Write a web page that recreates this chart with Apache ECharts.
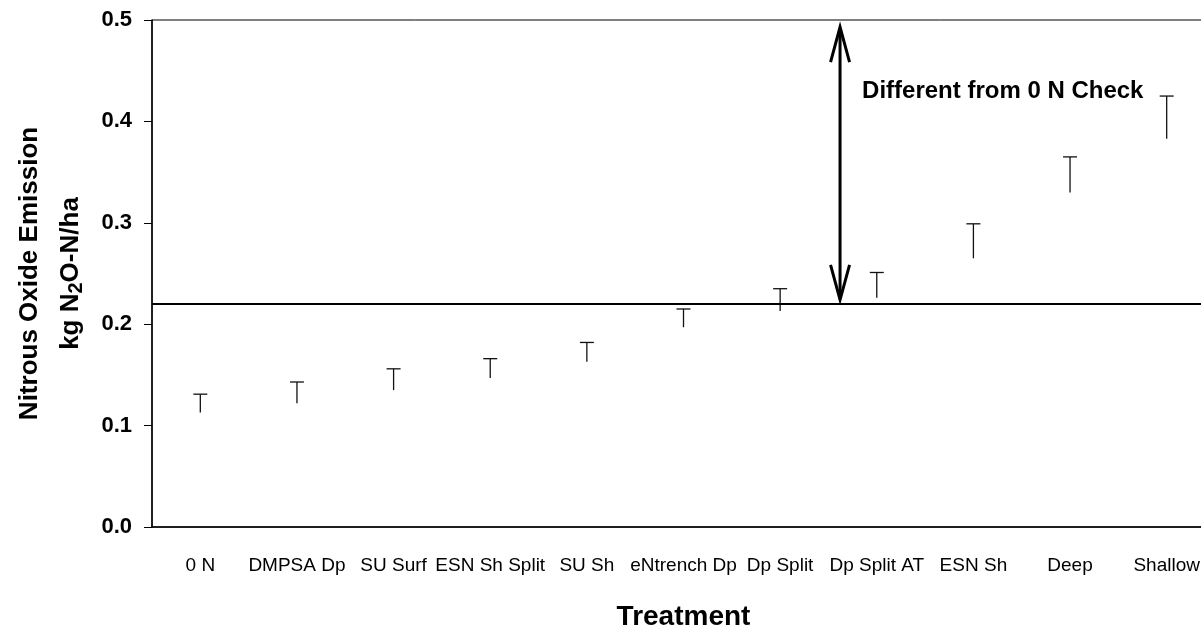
<!DOCTYPE html>
<html>
<head>
<meta charset="utf-8">
<script src="https://cdn.jsdelivr.net/npm/echarts@6/dist/echarts.min.js"></script>
<style>
  html, body { margin: 0; padding: 0; background: #fff; }
  #chart { width: 1201px; height: 631px; }
</style>
</head>
<body>
<div id="chart"></div>
<script>
// treatments, in plot order
const treatments = ['0 N', 'DMPSA Dp', 'SU Surf', 'ESN Sh Split', 'SU Sh', 'eNtrench Dp',
  'Dp Split', 'Dp Split AT', 'ESN Sh', 'Deep', 'Shallow'];
// mean N2O emission, kg N2O-N/ha
const means = [0.113, 0.122, 0.135, 0.147, 0.163, 0.197, 0.213, 0.226, 0.265, 0.330, 0.383];
// upper error (SE)
const errors = [0.018, 0.021, 0.021, 0.019, 0.019, 0.018, 0.022, 0.025, 0.034, 0.035, 0.042];
const yTicks = [0, 0.1, 0.2, 0.3, 0.4, 0.5];

// 0 N check threshold and the "different" arrow
const checkLine = 0.219;
const arrowPos = 6.62;          // between Dp Split and Dp Split AT
const arrowSpan = [0.224, 0.493];
const noteText = 'Different from 0 N Check';
const noteY = 0.430;

const font = 'Liberation Sans, Arial, sans-serif';

const barData = treatments.map((t, i) => [i, means[i], means[i] + errors[i]]);

function renderErrorBar(params, api) {
  const i = api.value(0);
  const base = api.coord([i, api.value(1)]);
  const top = api.coord([i, api.value(2)]);
  const half = 7;
  const style = { stroke: '#111', lineWidth: 1.3, fill: null };
  return {
    type: 'group',
    children: [
      { type: 'line', shape: { x1: base[0], y1: base[1], x2: top[0], y2: top[1] }, style: style },
      { type: 'line', shape: { x1: top[0] - half, y1: top[1], x2: top[0] + half, y2: top[1] }, style: style }
    ]
  };
}

function renderArrow(params, api) {
  const lo = Math.floor(arrowPos);
  const f = arrowPos - lo;
  const a = api.coord([lo, arrowSpan[0]]);
  const b = api.coord([lo + 1, arrowSpan[1]]);
  const x = a[0] + (b[0] - a[0]) * f;
  const yBot = a[1], yTop = b[1];
  const hw = 9.5, hl = 35;
  const st = { stroke: '#000', lineWidth: 3, fill: null, lineJoin: 'miter' };
  const ny = api.coord([lo, noteY])[1];
  return {
    type: 'group',
    children: [
      { type: 'line', shape: { x1: x, y1: yTop + 1, x2: x, y2: yBot - 1 }, style: st },
      { type: 'polyline', shape: { points: [[x - hw, yTop + hl], [x, yTop], [x + hw, yTop + hl]] }, style: st },
      { type: 'polyline', shape: { points: [[x - hw, yBot - hl], [x, yBot], [x + hw, yBot - hl]] }, style: st },
      { type: 'text', x: x + 22, y: ny, style: {
          text: noteText, fill: '#000', font: 'bold 24px ' + font, verticalAlign: 'middle', align: 'left' } }
    ]
  };
}

const chart = echarts.init(document.getElementById('chart'), null, { renderer: 'canvas' });
chart.setOption({
  animation: false,
  backgroundColor: '#fff',
  grid: {
    left: 152, top: 20, right: -14, bottom: 104,
    outerBoundsMode: 'none', containLabel: false,
    show: true, borderColor: '#000', borderWidth: 1
  },
  xAxis: {
    type: 'category',
    data: treatments,
    name: 'Treatment',
    nameLocation: 'middle',
    nameGap: 76,
    nameTextStyle: { fontFamily: font, fontWeight: 'bold', fontSize: 28, color: '#000' },
    axisLine: { lineStyle: { color: '#000', width: 1.5 } },
    axisTick: { alignWithLabel: true, length: 7, lineStyle: { color: '#000' } },
    axisLabel: { interval: 0, margin: 29, fontFamily: font, fontSize: 19, color: '#000' },
    splitLine: { show: false }
  },
  yAxis: {
    type: 'value',
    min: yTicks[0],
    max: yTicks[yTicks.length - 1],
    interval: 0.1,
    name: '{a|Nitrous Oxide Emission}\n{a|kg N}{s|2}{a|O-N/ha}',
    nameLocation: 'middle',
    nameRotate: 90,
    nameGap: 61,
    nameTextStyle: {
      rich: {
        a: { fontFamily: font, fontWeight: 'bold', fontSize: 26, color: '#000', lineHeight: 41 },
        s: { fontFamily: font, fontWeight: 'bold', fontSize: 20, color: '#000', lineHeight: 41, padding: [12, 0, 0, 0] }
      }
    },
    axisLine: { show: true, lineStyle: { color: '#000', width: 1.5 } },
    axisTick: { show: true, length: 8, lineStyle: { color: '#000' } },
    axisLabel: { margin: 20, fontFamily: font, fontWeight: 'bold', fontSize: 22, color: '#000',
      formatter: v => v.toFixed(1) },
    splitLine: { show: false }
  },
  series: [
    {
      type: 'custom',
      data: barData,
      renderItem: renderErrorBar,
      encode: { x: 0, y: [1, 2] },
      markLine: {
        silent: true,
        symbol: ['none', 'none'],
        label: { show: false },
        lineStyle: { color: '#000', width: 2, type: 'solid' },
        data: [{ yAxis: checkLine }]
      }
    },
    {
      type: 'custom',
      data: [[arrowPos, arrowSpan[0]]],
      renderItem: renderArrow,
      silent: true
    }
  ]
});
</script>
</body>
</html>
